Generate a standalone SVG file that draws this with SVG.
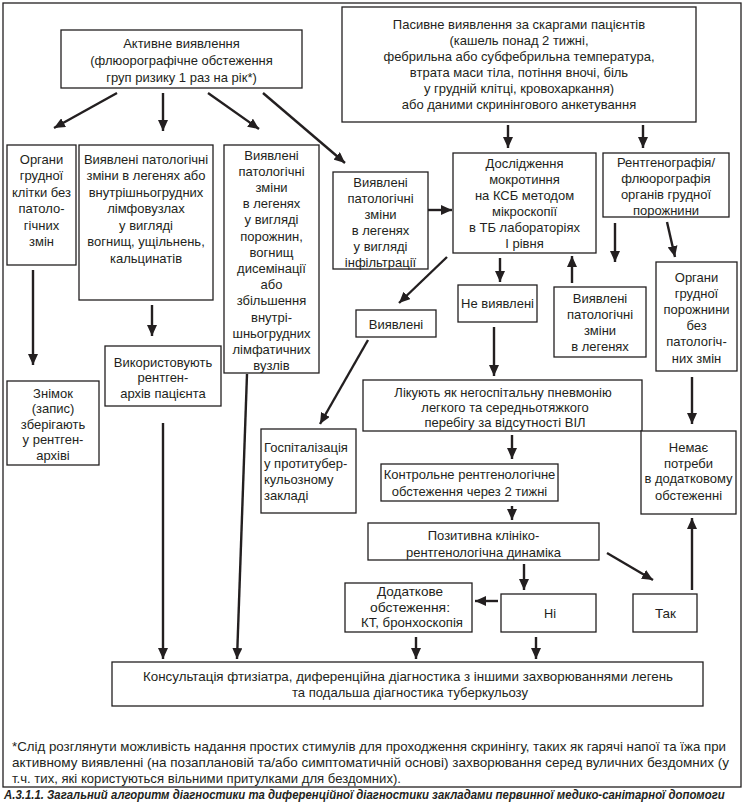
<svg xmlns="http://www.w3.org/2000/svg" width="745" height="806" viewBox="0 0 745 806">
<style>
.b{fill:#fff;stroke:#231f20;stroke-width:1.3}
.t{font-family:"Liberation Sans",Arial,sans-serif;font-size:13px;fill:#231f20;text-anchor:middle}
.l{text-anchor:start}
.n{font-family:"Liberation Sans",Arial,sans-serif;font-size:13px;fill:#231f20}
.cap{font-family:"Liberation Sans",Arial,sans-serif;font-size:12px;font-weight:bold;font-style:italic;fill:#231f20}
.c line{stroke:#231f20;stroke-width:2.4;fill:none;marker-end:url(#ah)}
</style>
<defs>
<marker id="ah" markerUnits="userSpaceOnUse" markerWidth="11" markerHeight="10" refX="11" refY="5" orient="auto">
<path d="M0,0 L11,5 L0,10 z" fill="#231f20"/>
</marker>
</defs>
<rect x="0" y="0" width="745" height="806" fill="#fff"/>
<rect id="frame" x="3" y="3" width="738" height="784" fill="none" stroke="#231f20" stroke-width="1.3"/>

<g id="active"><rect class="b" x="61" y="30" width="241" height="58"/>
<text class="t"><tspan x="181.5" y="47.5">Активне виявлення</tspan><tspan x="181.5" y="64.5">(флюорографічне обстеження</tspan><tspan x="181.5" y="81.5">груп ризику 1 раз на рік*)</tspan></text></g>

<g id="passive"><rect class="b" x="342" y="7" width="354" height="115"/>
<text class="t"><tspan x="519" y="29">Пасивне виявлення за скаргами пацієнтів</tspan><tspan x="519" y="45">(кашель понад 2 тижні,</tspan><tspan x="519" y="61">фебрильна або субфебрильна температура,</tspan><tspan x="519" y="77">втрата маси тіла, потіння вночі, біль</tspan><tspan x="519" y="93">у грудній клітці, кровохаркання)</tspan><tspan x="519" y="109">або даними скринінгового анкетування</tspan></text></g>

<g id="organs-left"><rect class="b" x="7" y="145" width="69" height="120"/>
<text class="t"><tspan x="41.5" y="163.5">Органи</tspan><tspan x="41.5" y="180">грудної</tspan><tspan x="41.5" y="196.5">клітки без</tspan><tspan x="41.5" y="213">патоло-</tspan><tspan x="41.5" y="229.5">гічних</tspan><tspan x="41.5" y="246">змін</tspan></text></g>

<g id="found-lymph"><rect class="b" x="79" y="145" width="134" height="155"/>
<text class="t"><tspan x="146" y="163.5">Виявлені патологічні</tspan><tspan x="146" y="180">зміни в легенях або</tspan><tspan x="146" y="196.5">внутрішньогрудних</tspan><tspan x="146" y="213">лімфовузлах</tspan><tspan x="146" y="229.5">у вигляді</tspan><tspan x="146" y="246">вогнищ, ущільнень,</tspan><tspan x="146" y="262.5">кальцинатів</tspan></text></g>

<g id="found-cavity"><rect class="b" x="224" y="145" width="95" height="228"/>
<text class="t"><tspan x="271.5" y="159.5">Виявлені</tspan><tspan x="271.5" y="175.7">патологічні</tspan><tspan x="271.5" y="191.9">зміни</tspan><tspan x="271.5" y="208.1">в легенях</tspan><tspan x="271.5" y="224.3">у вигляді</tspan><tspan x="271.5" y="240.5">порожнин,</tspan><tspan x="271.5" y="256.7">вогнищ</tspan><tspan x="271.5" y="272.9">дисемінації</tspan><tspan x="271.5" y="289.1">або</tspan><tspan x="271.5" y="305.3">збільшення</tspan><tspan x="271.5" y="321.5">внутрі-</tspan><tspan x="271.5" y="337.7">шньогрудних</tspan><tspan x="271.5" y="353.9">лімфатичних</tspan><tspan x="271.5" y="370.1">вузлів</tspan></text></g>

<g id="found-infiltr"><rect class="b" x="333" y="172" width="95" height="97"/>
<text class="t"><tspan x="380.5" y="186.5">Виявлені</tspan><tspan x="380.5" y="202.5">патологічні</tspan><tspan x="380.5" y="218.5">зміни</tspan><tspan x="380.5" y="234.5">в легенях</tspan><tspan x="380.5" y="250.5">у вигляді</tspan><tspan x="380.5" y="266.5">інфільтрації</tspan></text></g>

<g id="sputum"><rect class="b" x="453" y="153" width="143" height="100"/>
<text class="t"><tspan x="524.5" y="167.5">Дослідження</tspan><tspan x="524.5" y="183.5">мокротиння</tspan><tspan x="524.5" y="199.5">на КСБ методом</tspan><tspan x="524.5" y="215.5">мікроскопії</tspan><tspan x="524.5" y="231.5">в ТБ лабораторіях</tspan><tspan x="524.5" y="247.5">І рівня</tspan></text></g>

<g id="xray"><rect class="b" x="603" y="153" width="126" height="64"/>
<text class="t"><tspan x="666" y="166.5">Рентгенографія/</tspan><tspan x="666" y="182.5">флюорографія</tspan><tspan x="666" y="198.5">органів грудної</tspan><tspan x="666" y="214.5">порожнини</tspan></text></g>

<g id="organs-right"><rect class="b" x="656" y="262" width="81" height="109"/>
<text class="t"><tspan x="696.5" y="281.5">Органи</tspan><tspan x="696.5" y="297.7">грудної</tspan><tspan x="696.5" y="313.9">порожнини</tspan><tspan x="696.5" y="330.1">без</tspan><tspan x="696.5" y="346.3">патологіч-</tspan><tspan x="696.5" y="362.5">них змін</tspan></text></g>

<g id="not-found"><rect class="b" x="458" y="285" width="79" height="37"/>
<text class="t" x="497.5" y="307.5">Не виявлені</text></g>

<g id="found-mid"><rect class="b" x="554" y="287" width="92" height="70"/>
<text class="t"><tspan x="600" y="302.5">Виявлені</tspan><tspan x="600" y="318.5">патологічні</tspan><tspan x="600" y="334.5">зміни</tspan><tspan x="600" y="350.5">в легенях</tspan></text></g>

<g id="found-small"><rect class="b" x="356" y="310" width="80" height="27"/>
<text class="t" x="396" y="328.5">Виявлені</text></g>

<g id="archive-use"><rect class="b" x="105" y="346" width="116" height="60"/>
<text class="t"><tspan x="163" y="366.5">Використовують</tspan><tspan x="163" y="382">рентген-</tspan><tspan x="163" y="397.5">архів пацієнта</tspan></text></g>

<g id="snapshot"><rect class="b" x="7" y="381" width="92" height="84"/>
<text class="t"><tspan x="53" y="397.5">Знімок</tspan><tspan x="53" y="413">(запис)</tspan><tspan x="53" y="428.5">зберігають</tspan><tspan x="53" y="444">у рентген-</tspan><tspan x="53" y="459.5">архіві</tspan></text></g>

<g id="hospital"><rect class="b" x="261" y="429" width="95" height="84"/>
<text class="t l"><tspan x="264" y="451.5">Госпіталізація</tspan><tspan x="264" y="467.5">у протитубер-</tspan><tspan x="264" y="483.5">кульозному</tspan><tspan x="264" y="499.5">закладі</tspan></text></g>

<g id="treat"><rect class="b" x="363" y="380" width="279" height="51"/>
<text class="t"><tspan x="503" y="396.5">Лікують як негоспітальну пневмонію</tspan><tspan x="505" y="411.5">легкого та середньотяжкого</tspan><tspan x="505" y="426.5">перебігу за відсутності ВІЛ</tspan></text></g>

<g id="no-need"><rect class="b" x="641" y="431" width="95" height="83"/>
<text class="t"><tspan x="688.5" y="451.5">Немає</tspan><tspan x="688.5" y="467.5">потреби</tspan><tspan x="688.5" y="483">в додатковому</tspan><tspan x="688.5" y="499.5">обстеженні</tspan></text></g>

<g id="control"><rect class="b" x="381" y="464" width="177" height="37"/>
<text class="t"><tspan x="469.5" y="478.5">Контрольне рентгенологічне</tspan><tspan x="469.5" y="495.5">обстеження через 2 тижні</tspan></text></g>

<g id="positive"><rect class="b" x="368" y="523" width="231" height="37"/>
<text class="t"><tspan x="483.5" y="539.5">Позитивна клініко-</tspan><tspan x="483.5" y="556.5">рентгенологічна динаміка</tspan></text></g>

<g id="extra"><rect class="b" x="345" y="583" width="127" height="49"/>
<text class="n"><tspan x="377" y="595.5" textLength="66" lengthAdjust="spacingAndGlyphs">Додаткове</tspan><tspan x="370" y="611.5" textLength="80" lengthAdjust="spacingAndGlyphs">обстеження:</tspan><tspan x="361" y="627" textLength="102" lengthAdjust="spacingAndGlyphs">КТ, бронхоскопія</tspan></text></g>

<g id="no"><rect class="b" x="501" y="594" width="95" height="38"/>
<text class="n" x="544" y="617.5" textLength="12" lengthAdjust="spacingAndGlyphs">Ні</text></g>

<g id="yes"><rect class="b" x="633" y="594" width="64" height="38"/>
<text class="n" x="655" y="617.5" textLength="21" lengthAdjust="spacingAndGlyphs">Так</text></g>

<g id="consult"><rect class="b" x="112" y="662" width="591" height="44"/>
<text class="n"><tspan x="143" y="680.5" textLength="530" lengthAdjust="spacingAndGlyphs">Консультація фтизіатра, диференційна діагностика з іншими захворюваннями легень</tspan><tspan x="292" y="696.5" textLength="236" lengthAdjust="spacingAndGlyphs">та подальша діагностика туберкульозу</tspan></text></g>

<g id="footnote"><text class="n"><tspan x="12" y="750.5" textLength="714" lengthAdjust="spacingAndGlyphs">*Слід розглянути можливість надання простих стимулів для проходження скринінгу, таких як гарячі напої та їжа при</tspan><tspan x="12" y="766.5" textLength="717" lengthAdjust="spacingAndGlyphs">активному виявленні (на позаплановій та/або симптоматичній основі) захворювання серед вуличних бездомних (у</tspan><tspan x="12" y="782.5" textLength="389" lengthAdjust="spacingAndGlyphs">т.ч. тих, які користуються вільними притулками для бездомних).</tspan></text></g>

<g id="caption" transform="translate(4,799) scale(0.82,1)"><text class="cap" x="0" y="0" textLength="879" lengthAdjust="spacingAndGlyphs">А.3.1.1. Загальний алгоритм діагностики та диференційної діагностики закладами первинної медико-санітарної допомоги</text></g>

<g id="connectors" class="c">
<line x1="117" y1="93" x2="54" y2="128"/>
<line x1="163" y1="93" x2="163" y2="131"/>
<line x1="208" y1="93" x2="259" y2="129"/>
<line x1="263" y1="93" x2="345" y2="163"/>
<line x1="508" y1="125" x2="508" y2="148"/>
<line x1="643" y1="125" x2="643" y2="148"/>
<line x1="33" y1="270" x2="33" y2="365"/>
<line x1="152" y1="305" x2="152" y2="336"/>
<line x1="428" y1="210" x2="452" y2="210"/>
<line x1="500" y1="258" x2="500" y2="282"/>
<line x1="447" y1="257" x2="399" y2="303"/>
<line x1="572" y1="283" x2="572" y2="256"/>
<line x1="615" y1="223" x2="615" y2="262"/>
<line x1="667" y1="222" x2="675" y2="257"/>
<line x1="368" y1="340" x2="320" y2="424"/>
<line x1="494" y1="327" x2="494" y2="376"/>
<line x1="692" y1="377" x2="692" y2="424"/>
<line x1="512" y1="435" x2="512" y2="459"/>
<line x1="512" y1="506" x2="512" y2="520"/>
<line x1="524" y1="564" x2="524" y2="590"/>
<line x1="607" y1="553" x2="653" y2="580"/>
<line x1="498" y1="601" x2="475" y2="601"/>
<line x1="692" y1="590" x2="692" y2="518"/>
<line x1="163" y1="423" x2="163" y2="659"/>
<line x1="247" y1="374" x2="237" y2="659"/>
<line x1="416" y1="637" x2="416" y2="659"/>
<line x1="536" y1="637" x2="536" y2="659"/>
</g>
</svg>
